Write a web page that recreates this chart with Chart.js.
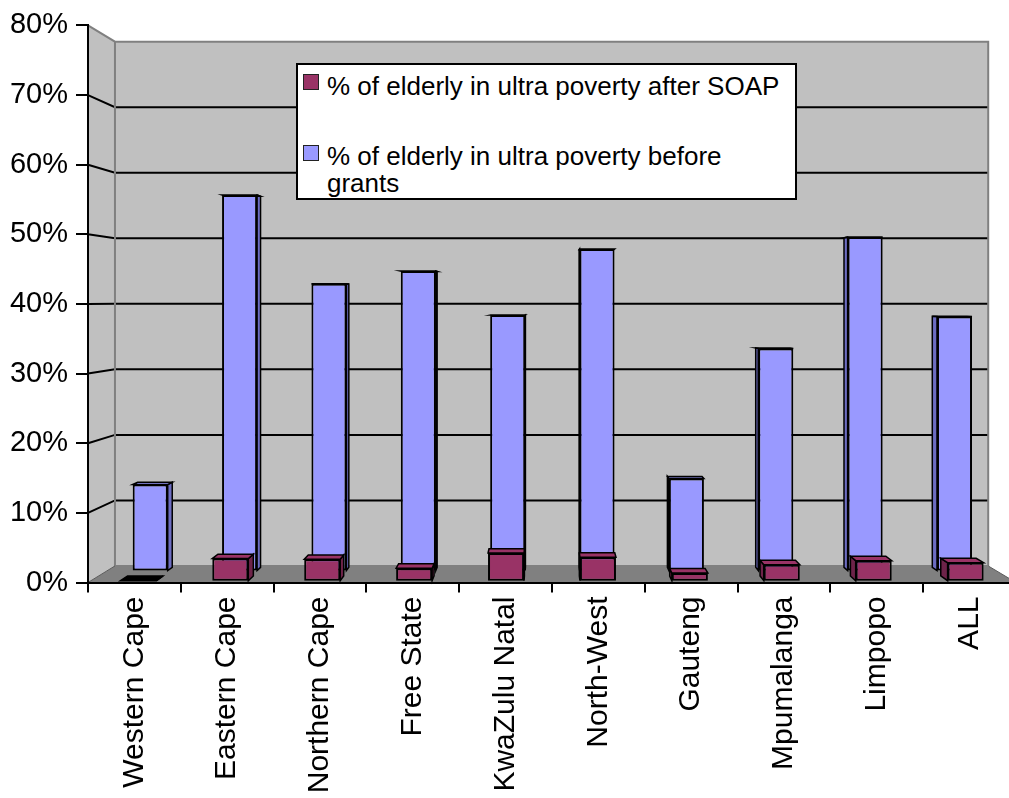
<!DOCTYPE html>
<html>
<head>
<meta charset="utf-8">
<script src="https://cdn.jsdelivr.net/npm/chart.js@4.4.1/dist/chart.umd.min.js"></script>
<style>
html,body{margin:0;padding:0;background:#fff;overflow:hidden;}
#wrap{position:relative;width:1020px;height:798px;}
#legend{position:absolute;left:296px;top:63px;width:501px;height:137px;background:#fff;border:2px solid #000;box-sizing:border-box;font-family:"Liberation Sans",Arial,sans-serif;font-size:26px;line-height:27px;color:#000;}
#legend .sw{position:absolute;width:16px;height:16px;box-sizing:border-box;border:1.5px solid #222;}
#legend .tx{position:absolute;width:462px;}
</style>
</head>
<body>
<div id="wrap"><canvas id="c" width="1020" height="798"></canvas><div id="legend"></div></div>
<script>
// ---- data ----
const categories = ["Western Cape","Eastern Cape","Northern Cape","Free State","KwaZulu Natal","North-West","Gauteng","Mpumalanga","Limpopo","ALL"];
const afterSOAP    = [0.0, 3.2, 3.1, 1.8, 4.0, 3.4, 1.1, 2.3, 2.9, 2.6];
const beforeGrants = [12.9, 56.3, 43.0, 44.9, 38.3, 48.2, 13.8, 33.3, 50.0, 38.1];
const yTicks = [0, 10, 20, 30, 40, 50, 60, 70, 80];
const seriesNames = ["% of elderly in ultra poverty after SOAP", "% of elderly in ultra poverty before grants"];

// ---- style / view ----
const COL = {red:'#993366', redSide:'#6E2349', blue:'#9999FF', blueSide:'#6D6DC2', wall:'#C0C0C0', floor:'#808080', edge:'#808080'};
const view = {vpX:545, vpY:302, wallDepth:0.941};
Chart.defaults.font.family = "'Liberation Sans', Arial, sans-serif";
Chart.defaults.color = '#000';

function persp(x, y, f){ return [view.vpX + (x - view.vpX)*f, view.vpY + (y - view.vpY)*f]; }
function poly(ctx, pts, fill, stroke, lw){
  ctx.beginPath(); ctx.moveTo(pts[0][0], pts[0][1]);
  for (let i=1;i<pts.length;i++) ctx.lineTo(pts[i][0], pts[i][1]);
  ctx.closePath();
  if (fill){ ctx.fillStyle = fill; ctx.fill(); }
  if (stroke){ ctx.strokeStyle = stroke; ctx.lineWidth = lw || 1; ctx.stroke(); }
}
// hidden depth-row axes: one tick per category
const indexTicks = s => { s.ticks = categories.map((c,i)=>({value:i})); };

const walls = {
  id:'walls',
  beforeDraw(chart){
    const ctx = chart.ctx, ys = chart.scales.y, a = chart.chartArea, k = view.wallDepth;
    const y0 = ys.getPixelForValue(yTicks[0]), yT = ys.getPixelForValue(yTicks[yTicks.length-1]);
    const L = a.left, R = a.right;
    const bTL = persp(L, yT, k), bBL = persp(L, y0, k), bTR = persp(R, yT, k), bBR = persp(R, y0, k);
    ctx.save();
    poly(ctx, [bTL, bTR, bBR, bBL], COL.wall);
    poly(ctx, [[L, yT], bTL, bBL, [L, y0]], COL.wall);
    poly(ctx, [[L, y0], bBL, bBR, [R, y0]], COL.floor);
    ctx.lineCap = 'butt';
    yTicks.forEach(v => {
      if (v === yTicks[0] || v === yTicks[yTicks.length-1]) return;
      const yf = ys.getPixelForValue(v); const pl = persp(L, yf, k), pr = persp(R, yf, k);
      ctx.strokeStyle = '#000'; ctx.lineWidth = 2;
      ctx.beginPath(); ctx.moveTo(L, yf); ctx.lineTo(pl[0], pl[1]); ctx.lineTo(pr[0], pr[1]); ctx.stroke();
    });
    ctx.strokeStyle = COL.edge; ctx.lineWidth = 2;
    ctx.beginPath();
    ctx.moveTo(L, yT); ctx.lineTo(bTL[0], bTL[1]); ctx.lineTo(bTR[0], bTR[1]); ctx.lineTo(bBR[0], bBR[1]);
    ctx.moveTo(bTL[0], bTL[1]); ctx.lineTo(bBL[0], bBL[1]); ctx.lineTo(bBR[0], bBR[1]);
    ctx.stroke();
    ctx.strokeStyle = '#5a5a5a'; ctx.lineWidth = 1;
    ctx.beginPath(); ctx.moveTo(L, y0); ctx.lineTo(bBL[0], bBL[1]); ctx.moveTo(R, y0); ctx.lineTo(bBR[0], bBR[1]); ctx.stroke();
    ctx.restore();
  }
};

const box3d = {
  id:'box3d',
  beforeDatasetDraw(chart, args){
    const ds = chart.data.datasets[args.index];
    const f = ds.depthFactor, ctx = chart.ctx;
    ctx.save(); ctx.lineJoin = 'miter';
    args.meta.data.forEach(el => {
      const p = el.getProps(['x','y','base','width'], true);
      const l = p.x - p.width/2, r = p.x + p.width/2, t = Math.min(p.y, p.base), b = Math.max(p.y, p.base);
      const Bl = persp(l, t, f), Br = persp(r, t, f), Bbl = persp(l, b, f), Bbr = persp(r, b, f);
      const flat = (b - t) < 1;
      if (p.x < view.vpX) poly(ctx, [[r,t], Br, Bbr, [r,b]], ds.sideColor, '#000', 1.5);
      else poly(ctx, [[l,t], Bl, Bbl, [l,b]], ds.sideColor, '#000', 1.5);
      poly(ctx, [[l,t],[r,t],Br,Bl], flat ? '#000' : ds.backgroundColor, '#000', 1.5);
    });
    ctx.restore();
  }
};

const chart = new Chart(document.getElementById('c'), {
  type:'bar',
  data:{
    labels: categories,
    datasets:[
      {label: seriesNames[0], data: afterSOAP.map((v,i)=>({x:i, y:v})), xAxisID:'xr', yAxisID:'yr',
       backgroundColor: COL.red, sideColor: COL.redSide, depthFactor: 0.983,
       borderColor:'#000', borderWidth:2, borderSkipped:false,
       grouped:false, categoryPercentage:1, barPercentage:0.392},
      {label: seriesNames[1], data: beforeGrants.map((v,i)=>({x:i, y:v})), xAxisID:'xb', yAxisID:'yb',
       backgroundColor: COL.blue, sideColor: COL.blueSide, depthFactor: 0.988,
       borderColor:'#000', borderWidth:2, borderSkipped:false,
       grouped:false, categoryPercentage:1, barPercentage:0.392}
    ]
  },
  options:{
    responsive:false, animation:false, devicePixelRatio:1,
    layout:{padding:{top:24, right:4, left:0, bottom:0}},
    plugins:{legend:{display:false}, tooltip:{enabled:false}},
    scales:{
      x:{type:'category', position:'bottom', offset:true,
         grid:{offset:true, drawOnChartArea:false, drawTicks:true, tickLength:10, color:'#000', lineWidth:2},
         border:{display:true, color:'#000', width:2},
         ticks:{minRotation:90, maxRotation:90, autoSkip:false, padding:4, font:{size:30}, color:'#000'},
         afterFit(s){ s.height = 215.5; }},
      y:{type:'linear', position:'left', min:yTicks[0], max:yTicks[yTicks.length-1],
         grid:{drawOnChartArea:false, drawTicks:true, tickLength:12, color:'#000', lineWidth:2},
         border:{display:true, color:'#000', width:2},
         ticks:{stepSize:10, padding:8, font:{size:29}, color:'#000', callback:v=>v+'%'},
         afterFit(s){ s.width = 88; }},
      xr:{type:'linear', display:false, offset:false, bounds:'data', min:-0.548, max:9.548, afterBuildTicks:indexTicks},
      yr:{type:'linear', display:false, bounds:'data', min:-0.26, max:80.27},
      xb:{type:'linear', display:false, offset:false, bounds:'data', min:-0.696, max:9.688, afterBuildTicks:indexTicks},
      yb:{type:'linear', display:false, bounds:'data', min:-1.795, max:81.74}
    }
  },
  plugins:[walls, box3d]
});

// legend (HTML, built from the chart's datasets)
const lg = document.getElementById('legend');
const pos = [{sw:[5,9], tx:[29,8]}, {sw:[5,80], tx:[29,78]}];
chart.data.datasets.forEach((d,i) => {
  const s = document.createElement('div'); s.className='sw';
  s.style.left = pos[i].sw[0]+'px'; s.style.top = pos[i].sw[1]+'px'; s.style.background = d.backgroundColor;
  const t = document.createElement('div'); t.className='tx';
  t.style.left = pos[i].tx[0]+'px'; t.style.top = pos[i].tx[1]+'px'; t.textContent = d.label;
  lg.appendChild(s); lg.appendChild(t);
});
</script>
</body>
</html>
